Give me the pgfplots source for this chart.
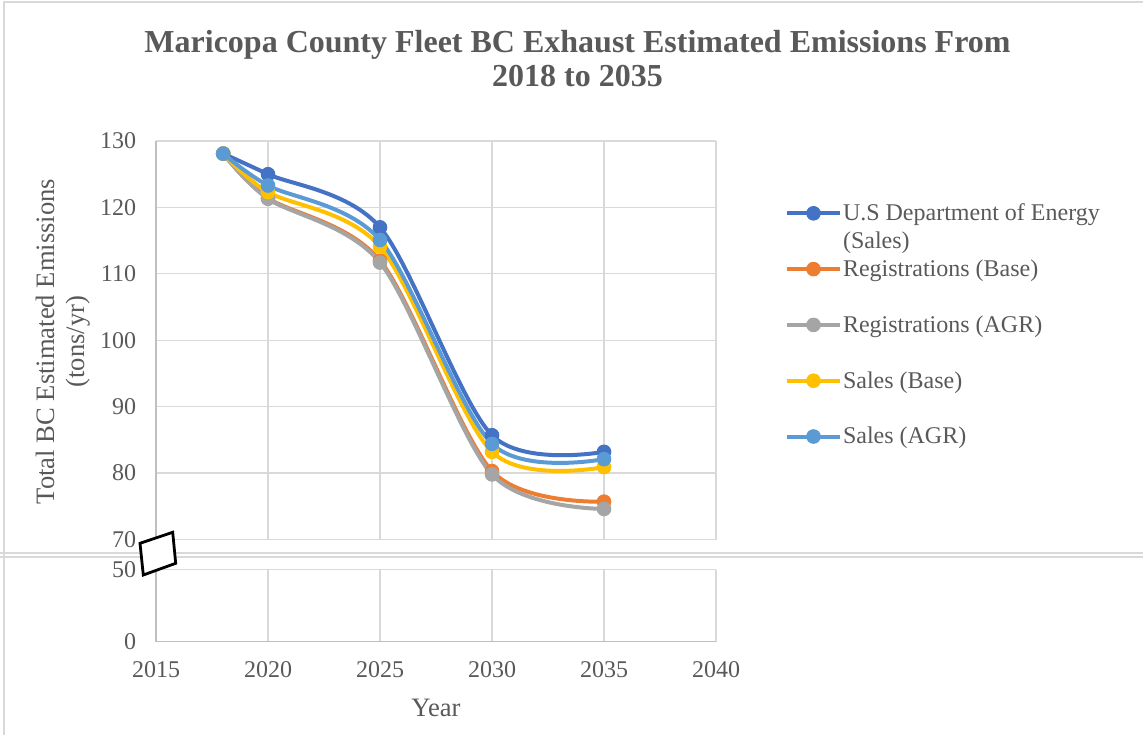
\documentclass[border=0pt]{standalone}
\usepackage{fontspec}
\setmainfont{Liberation Serif}
\usepackage{pgfplots}
\pgfplotsset{compat=1.18}

\definecolor{doe}{HTML}{4472C4}
\definecolor{regbase}{HTML}{ED7D31}
\definecolor{regagr}{HTML}{A5A5A5}
\definecolor{salesbase}{HTML}{FFC000}
\definecolor{salesagr}{HTML}{5B9BD5}
\definecolor{gridgray}{HTML}{D9D9D9}
\definecolor{axisgray}{HTML}{BFBFBF}
\definecolor{textgray}{HTML}{595959}

\pgfplotsset{
  yearaxis/.style={
    scale only axis, width=280pt,
    xmin=2015, xmax=2040,
    xtick={2015,2020,...,2040},
    grid=major,
    major grid style={gridgray, line width=0.6pt},
    major tick length=0pt,
    tick label style={font=\fontsize{12pt}{14pt}\selectfont, text=textgray,
      inner sep=0pt, outer sep=0pt},
    /pgf/number format/assume math mode=true,
    /pgf/number format/set thousands separator={},
    yticklabel shift=10pt,
    xticklabel shift=10pt,
    axis y line*=left,
    axis x line*=bottom,
    y axis line style={axisgray, line width=0.6pt},
    clip=false,
  },
  series/.style={#1, line width=2pt, smooth, mark=*, mark size=3.4pt,
    mark options={solid, fill=#1, line width=0.5pt}},
}

\begin{document}
\begin{tikzpicture}
\path[use as bounding box] (0pt,0pt) rectangle (571.5pt,367.5pt);

% chart frame
\draw[gridgray, line width=0.7pt] (2pt,0pt) -- (2pt,366.5pt) -- (571.5pt,366.5pt);

% title
\node[anchor=base, text=textgray, font=\bfseries\fontsize{16pt}{19pt}\selectfont]
  at (288.75pt,341.35pt) {Maricopa County Fleet BC Exhaust Estimated Emissions From};
\node[anchor=base, text=textgray, font=\bfseries\fontsize{16pt}{19pt}\selectfont]
  at (288.75pt,324.35pt) {2018 to 2035};

% upper panel: 70 to 130
\begin{axis}[
  yearaxis,
  at={(78pt,97.75pt)}, anchor=south west,
  height=199.25pt,
  ymin=70, ymax=130,
  ytick={70,80,...,130},
  xticklabels={},
  x axis line style={gridgray, line width=0.6pt},
  legend cell align=left,
  legend style={at={(axis description cs:1.12321,0.85358)}, anchor=north west,
    draw=none, fill=none, inner sep=0pt, outer sep=0pt,
    row sep=0pt, column sep=0.5pt,
    font=\fontsize{12pt}{14pt}\selectfont, text=textgray,
    nodes={inner sep=0pt, outer sep=0pt, text height=10.675pt, text depth=3.275pt, text=textgray}},
  legend image code/.code={
    \draw[mark repeat=2, mark phase=2, #1]
      plot coordinates {(0pt,0pt) (13.25pt,0pt) (26.5pt,0pt)};},
]
\addplot[series=doe] coordinates {
  (2018,128.1) (2020,125.0) (2025,117.0) (2030,85.7) (2035,83.2)};
\addlegendentry{U.S Department of Energy}
\addlegendimage{empty legend}
\addlegendentry{(Sales)}

\addplot[series=regbase] coordinates {
  (2018,128.1) (2020,121.4) (2025,112.0) (2030,80.3) (2035,75.7)};
\addlegendentry{Registrations (Base)}
\addlegendimage{empty legend}
\addlegendentry{}

\addplot[series=regagr] coordinates {
  (2018,128.1) (2020,121.3) (2025,111.7) (2030,79.8) (2035,74.6)};
\addlegendentry{Registrations (AGR)}
\addlegendimage{empty legend}
\addlegendentry{}

\addplot[series=salesbase] coordinates {
  (2018,128.1) (2020,122.3) (2025,114.1) (2030,83.2) (2035,80.9)};
\addlegendentry{Sales (Base)}
\addlegendimage{empty legend}
\addlegendentry{}

\addplot[series=salesagr] coordinates {
  (2018,128.1) (2020,123.3) (2025,115.1) (2030,84.4) (2035,82.1)};
\addlegendentry{Sales (AGR)}

% y axis title, two lines
\node[rotate=90, anchor=base, text=textgray, font=\fontsize{13.3pt}{16pt}\selectfont]
  at (axis description cs:-0.18036,0.497) {Total BC Estimated Emissions};
\node[rotate=90, anchor=base, text=textgray, font=\fontsize{13.3pt}{16pt}\selectfont]
  at (axis description cs:-0.12857,0.497) {(tons/yr)};
\end{axis}

% lower panel: 0 to 50
\begin{axis}[
  yearaxis,
  at={(78pt,46.65pt)}, anchor=south west,
  height=36.1pt,
  ymin=0, ymax=50,
  ytick={0,50},
  x axis line style={axisgray, line width=0.6pt},
  xlabel={Year},
  xlabel style={at={(axis description cs:0.5,-1.0388)}, anchor=base,
    text=textgray, font=\fontsize{13.3pt}{16pt}\selectfont, inner sep=0pt},
]
\end{axis}

% scale break
\draw[gridgray, line width=1pt] (0pt,91.1pt) -- (571.5pt,91.1pt);
\draw[gridgray, line width=1pt] (0pt,89.25pt) -- (571.5pt,89.25pt);
\draw[black, line width=1.4pt, fill=white]
  (70pt,95.85pt) -- (86.35pt,101.35pt) -- (87.85pt,85.85pt) -- (71.65pt,80pt) -- cycle;
\end{tikzpicture}
\end{document}
